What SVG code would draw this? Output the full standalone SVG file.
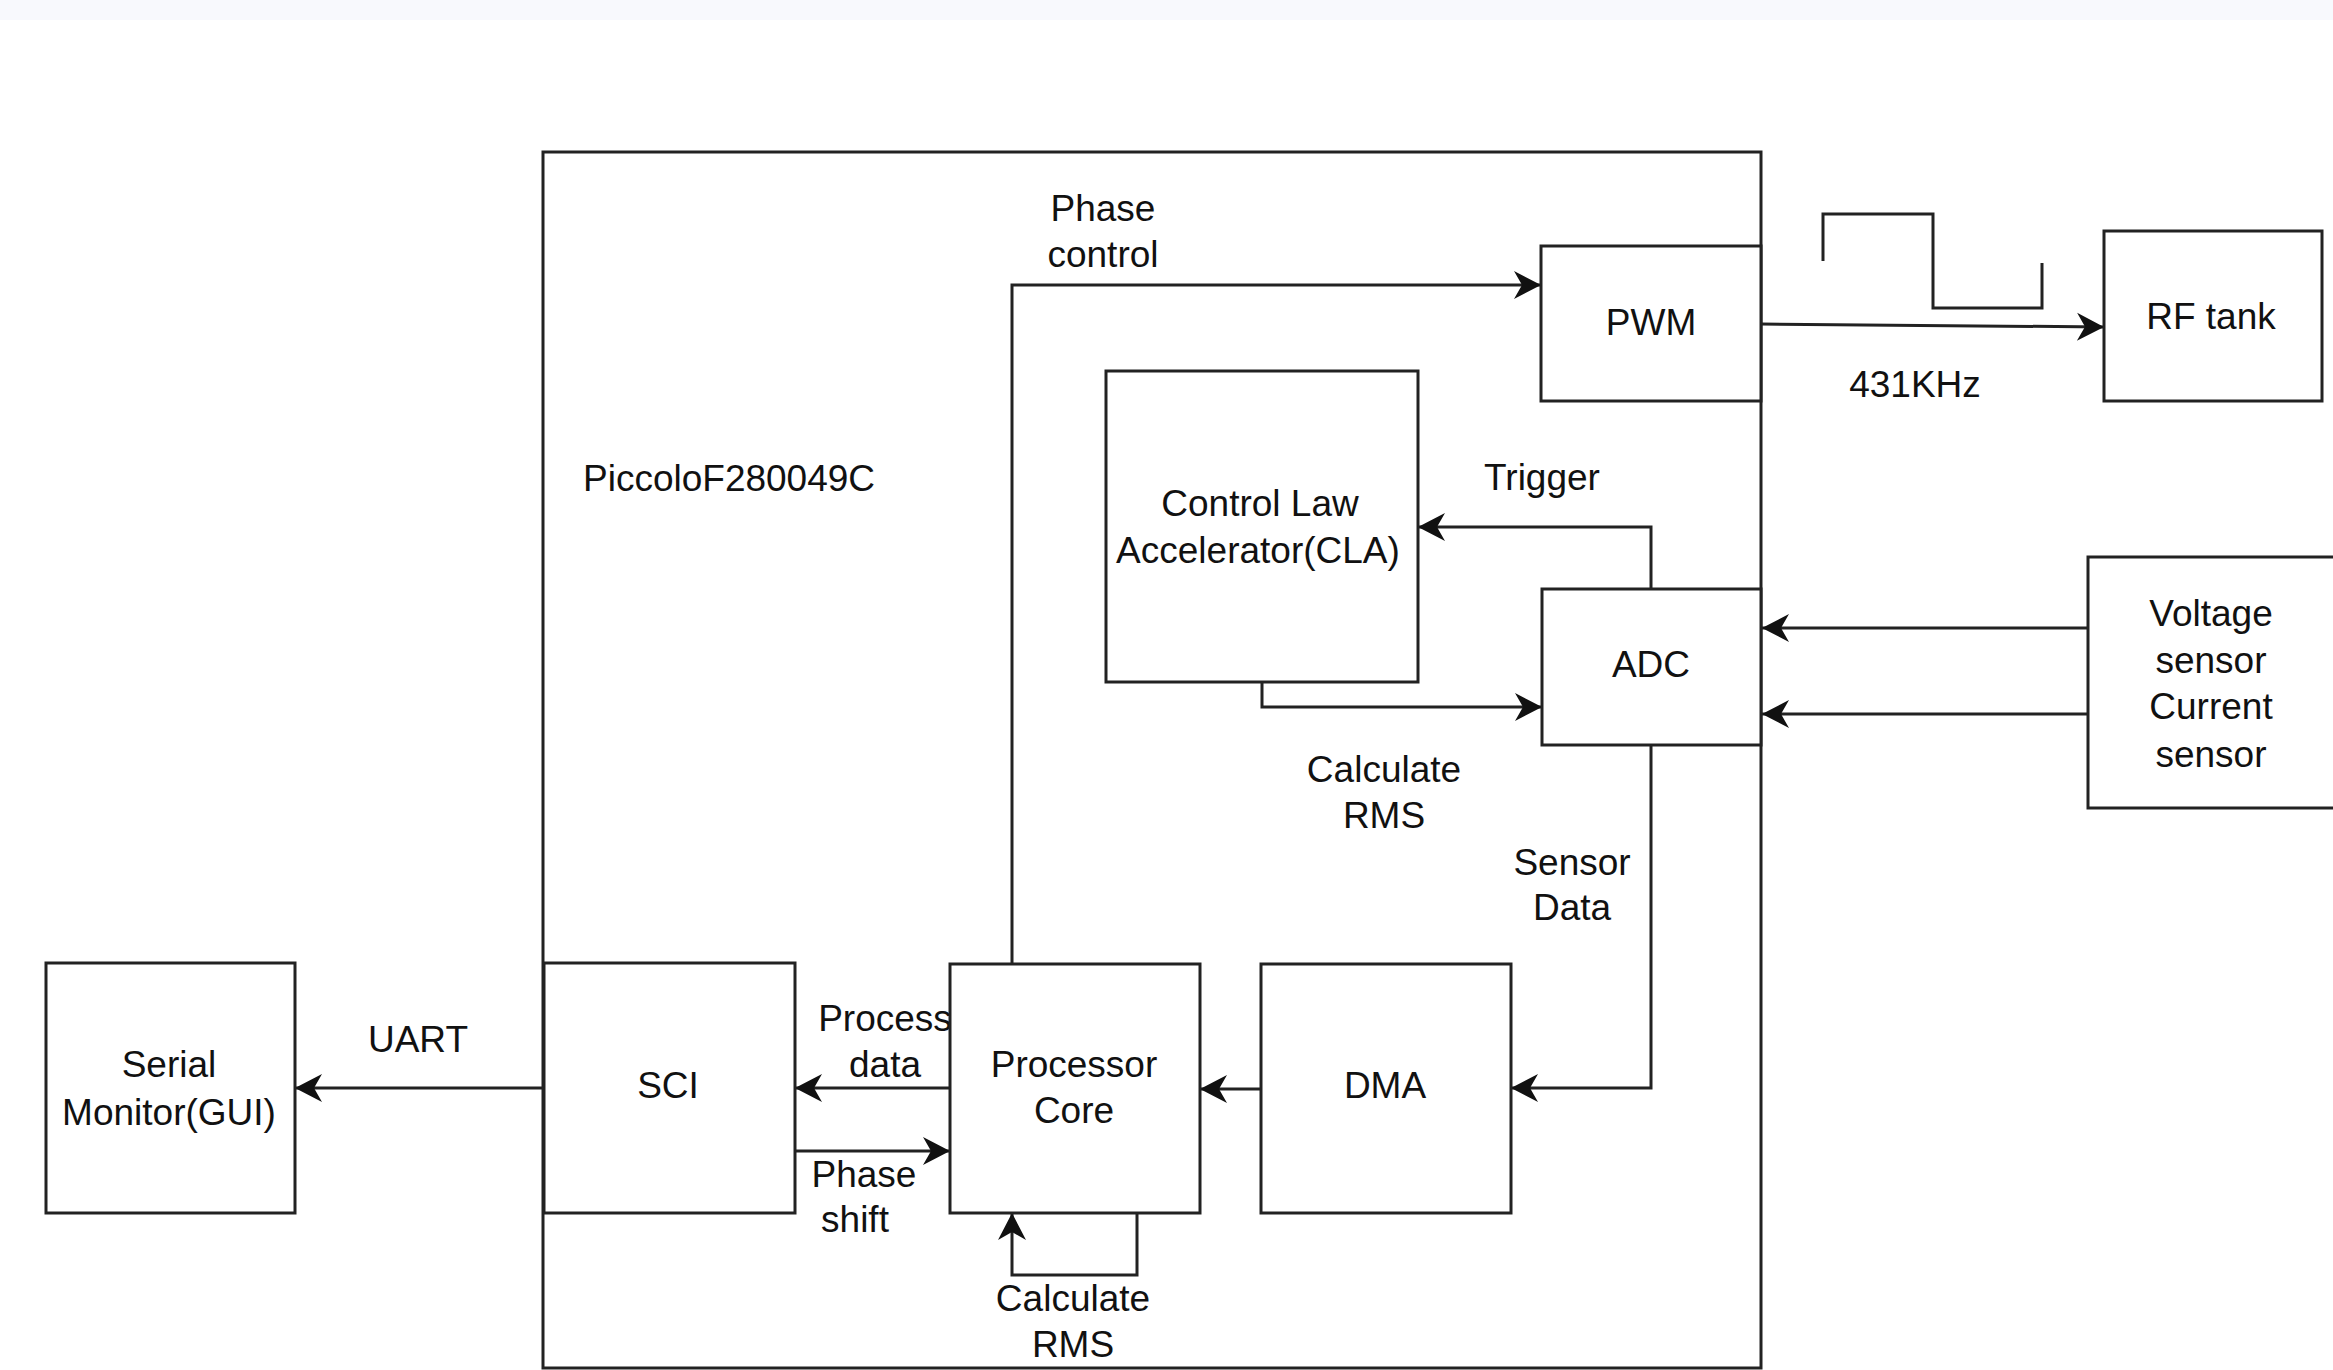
<svg xmlns="http://www.w3.org/2000/svg" width="2333" height="1370" viewBox="0 0 2333 1370">
<style>
.box{fill:#fff;stroke:#222;stroke-width:3}
.cont{fill:none;stroke:#222;stroke-width:3}
.ln{fill:none;stroke:#222;stroke-width:3}
.arr{marker-end:url(#ah)}
text{font-family:"Liberation Sans",Arial,sans-serif;font-size:37px;fill:#111;text-anchor:middle}
.l{text-anchor:start}
</style>
<defs>
<marker id="ah" markerUnits="userSpaceOnUse" markerWidth="32" markerHeight="32" viewBox="-29 -16 32 32" refX="0" refY="0" orient="auto">
<path d="M0,0 L-27,-14 L-19,0 L-27,14 Z" fill="#111"/>
</marker>
</defs>
<rect x="0" y="0" width="2333" height="20" fill="#f8f9fd"/>
<g id="container">
<rect class="cont" x="543" y="152" width="1218" height="1216"/>
<text class="l" x="583" y="491">PiccoloF280049C</text>
</g>
<g id="connectors">
<path class="ln arr" d="M1012,964 V285 H1541"/>
<path class="ln arr" d="M1761,324 L2104,327"/>
<path class="ln arr" d="M1651,589 V527 H1418"/>
<path class="ln arr" d="M1262,682 V707 H1542"/>
<path class="ln arr" d="M2088,628 H1762"/>
<path class="ln arr" d="M2088,714 H1762"/>
<path class="ln arr" d="M1651,745 V1088 H1511"/>
<path class="ln arr" d="M1261,1089 H1200"/>
<path class="ln arr" d="M950,1088 H795"/>
<path class="ln arr" d="M795,1151 H950"/>
<path class="ln arr" d="M544,1088 H295"/>
<path class="ln arr" d="M1137,1213 V1275 H1012 V1213"/>
<polyline class="ln" points="1823,261 1823,214 1933,214 1933,308 2042,308 2042,263"/>
</g>
<g id="labels">
<text x="1103" y="221">Phase</text>
<text x="1103" y="267">control</text>
<text x="1915" y="397">431KHz</text>
<text x="1542" y="490">Trigger</text>
<text x="1384" y="782">Calculate</text>
<text x="1384" y="828">RMS</text>
<text x="1572" y="875">Sensor</text>
<text x="1572" y="920">Data</text>
<text x="418" y="1052">UART</text>
<text x="885" y="1031">Process</text>
<text x="885" y="1077">data</text>
<text x="864" y="1187">Phase</text>
<text x="855" y="1232">shift</text>
<text x="1073" y="1311">Calculate</text>
<text x="1073" y="1357">RMS</text>
</g>
<g id="pwm">
<rect class="box" x="1541" y="246" width="220" height="155"/>
<text x="1651" y="335">PWM</text>
</g>
<g id="rf-tank">
<rect class="box" x="2104" y="231" width="218" height="170"/>
<text x="2211" y="329">RF tank</text>
</g>
<g id="cla">
<rect class="box" x="1106" y="371" width="312" height="311"/>
<text x="1260" y="516">Control Law</text>
<text x="1258" y="563">Accelerator(CLA)</text>
</g>
<g id="adc">
<rect class="box" x="1542" y="589" width="219" height="156"/>
<text x="1651" y="677">ADC</text>
</g>
<g id="sensors">
<rect class="box" x="2088" y="557" width="260" height="251"/>
<text x="2211" y="626">Voltage</text>
<text x="2211" y="673">sensor</text>
<text x="2211" y="719">Current</text>
<text x="2211" y="767">sensor</text>
</g>
<g id="serial-monitor">
<rect class="box" x="46" y="963" width="249" height="250"/>
<text x="169" y="1077">Serial</text>
<text x="169" y="1125">Monitor(GUI)</text>
</g>
<g id="sci">
<rect class="box" x="544" y="963" width="251" height="250"/>
<text x="668" y="1098">SCI</text>
</g>
<g id="processor-core">
<rect class="box" x="950" y="964" width="250" height="249"/>
<text x="1074" y="1077">Processor</text>
<text x="1074" y="1123">Core</text>
</g>
<g id="dma">
<rect class="box" x="1261" y="964" width="250" height="249"/>
<text x="1385" y="1098">DMA</text>
</g>
</svg>
